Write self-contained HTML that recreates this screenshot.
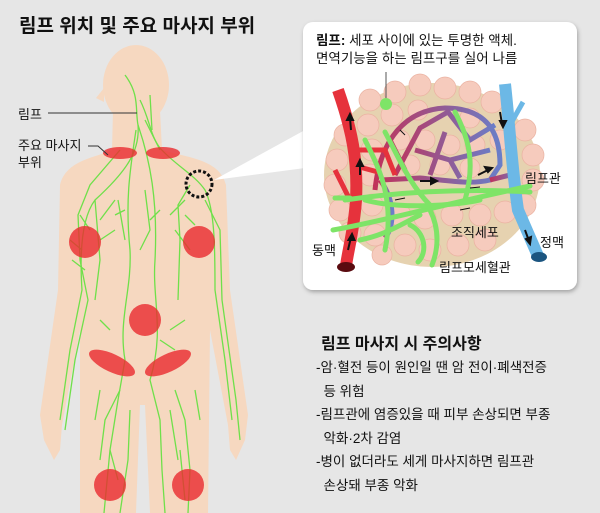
<!DOCTYPE html>
<html><head><meta charset="utf-8">
<style>
body{margin:0;width:600px;height:513px;background:#e6e6e6;overflow:hidden;position:relative;font-family:"Liberation Sans","Noto Sans CJK KR",sans-serif;color:#111}
.t{position:absolute;white-space:nowrap}
</style></head><body>
<svg width="600" height="513" style="position:absolute;left:0;top:0">
<defs>
<filter id="sh" x="-10%" y="-10%" width="120%" height="120%"><feDropShadow dx="1" dy="2" stdDeviation="2" flood-opacity="0.3"/></filter>
<linearGradient id="net" x1="0" x2="1"><stop offset="0" stop-color="#c0325a"/><stop offset="1" stop-color="#6a7ec8"/></linearGradient>
</defs>
<!-- body -->
<g fill="#f6d8c0">
<ellipse cx="136" cy="85" rx="33" ry="40"/>
<path d="M104 88 l-8 10 l8 4z"/>
<path d="M113 110 L160 110 L162 150 C190 158 220 160 226 185 L230 290 L248 415 L245 440 L236 460 L230 450 L228 425 L210 330 L208 513 L150 513 L145 405 L140 405 L136 513 L80 513 L80 330 L62 425 L60 450 L54 460 L44 440 L40 415 L58 290 L60 185 C66 160 95 158 112 150 Z"/>
</g>
<!-- lymph lines -->
<g stroke="#6fe04a" stroke-width="1.3" fill="none">
<path d="M125 75 C140 95 135 110 138 125 C140 150 128 170 95 200 C80 220 80 260 82 290 L70 350 L60 420"/>
<path d="M140 100 C150 120 150 135 160 148 C175 165 195 175 205 190 C215 210 215 250 215 290 L225 360 L232 420"/>
<path d="M138 125 C150 160 158 200 155 260 C152 300 165 330 150 380 L160 420 L162 470 L165 513"/>
<path d="M136 130 C130 170 125 200 130 250 C132 290 118 320 125 360 L118 400 L110 450 L104 513"/>
<path d="M150 95 L152 130 M145 120 L160 150 M120 150 L90 185 L78 215 L80 260 L88 300 L75 360 L65 430"/>
<path d="M95 200 L100 260 L95 300 M100 220 L115 200 M90 230 L80 215 M100 240 L115 230 M82 250 L70 240 M85 270 L72 260"/>
<path d="M190 185 L178 205 L180 240 L178 300 M185 200 L170 215 M185 215 L195 225 M205 200 L220 230 L222 300 L236 400 L240 440 M175 230 L190 250"/>
<path d="M145 190 L150 230 L140 250 M150 220 L160 210 M118 200 L125 240 M115 215 L125 210"/>
<path d="M170 330 L185 320 M160 340 L175 350 M110 330 L100 320 M120 390 L105 420 L100 460 M175 390 L185 420 L190 470 L188 513 M110 450 L118 480 M180 450 L185 500 M100 390 L95 420 M195 390 L200 420 M130 410 L128 460 L120 513 M170 410 L178 460"/>
</g>
<!-- red spots -->
<g fill="#ea2a2e" fill-opacity="0.8">
<ellipse cx="120" cy="153" rx="17" ry="6"/><ellipse cx="163" cy="153" rx="17" ry="6"/>
<circle cx="85" cy="242" r="16"/><circle cx="199" cy="242" r="16"/>
<circle cx="145" cy="320" r="16"/>
<ellipse cx="112" cy="363" rx="25" ry="9" transform="rotate(25 112 363)"/>
<ellipse cx="168" cy="363" rx="25" ry="9" transform="rotate(-25 168 363)"/>
<circle cx="110" cy="485" r="16"/><circle cx="188" cy="485" r="16"/>
</g>
<circle cx="199" cy="184" r="13" fill="none" stroke="#111" stroke-width="3" stroke-dasharray="3 2"/>
<path d="M48 113 L137 113" stroke="#333" stroke-width="1"/>
<path d="M88 146 L98 146 L108 155" stroke="#333" stroke-width="1" fill="none"/>
<!-- callout -->
<path d="M214 180 L305 130 L305 168 Z" fill="#fff"/>
<rect x="303" y="22" width="274" height="268" rx="10" fill="#fff" filter="url(#sh)"/>
<!-- tissue -->
<ellipse cx="432" cy="175" rx="108" ry="92" fill="#e6d2b0"/>
<g fill="#f6cbbd" stroke="#eab2a2" stroke-width="0.7">
<circle cx="345" cy="135" r="11"/><circle cx="337" cy="160" r="11"/><circle cx="335" cy="185" r="11"/><circle cx="340" cy="210" r="11"/><circle cx="350" cy="233" r="11"/>
<circle cx="370" cy="100" r="11"/><circle cx="395" cy="92" r="11"/><circle cx="420" cy="85" r="11"/><circle cx="445" cy="88" r="11"/><circle cx="470" cy="92" r="11"/><circle cx="492" cy="102" r="11"/>
<circle cx="368" cy="125" r="11"/><circle cx="392" cy="115" r="11"/><circle cx="418" cy="110" r="10"/><circle cx="470" cy="118" r="10"/>
<circle cx="372" cy="150" r="11"/><circle cx="370" cy="175" r="11"/><circle cx="372" cy="205" r="11"/><circle cx="375" cy="235" r="11"/><circle cx="382" cy="255" r="10"/>
<circle cx="400" cy="140" r="10"/><circle cx="425" cy="140" r="10"/><circle cx="450" cy="145" r="10"/><circle cx="475" cy="145" r="10"/><circle cx="410" cy="165" r="10"/><circle cx="440" cy="165" r="10"/><circle cx="470" cy="168" r="10"/>
<circle cx="400" cy="215" r="11"/><circle cx="425" cy="218" r="11"/><circle cx="452" cy="215" r="11"/><circle cx="480" cy="215" r="11"/><circle cx="505" cy="212" r="11"/>
<circle cx="405" cy="245" r="11"/><circle cx="430" cy="250" r="11"/><circle cx="458" cy="245" r="11"/><circle cx="485" cy="240" r="11"/>
<circle cx="525" cy="130" r="11"/><circle cx="533" cy="155" r="11"/><circle cx="533" cy="180" r="11"/><circle cx="525" cy="205" r="11"/><circle cx="500" cy="140" r="10"/>
</g>
<!-- network -->
<g fill="none" stroke="url(#net)" stroke-width="5">
<path d="M375 190 C380 140 405 110 445 108 C485 108 500 130 500 165 L490 180 C470 185 445 180 420 178 L380 180"/>
<path d="M395 175 L420 128 L448 112 L470 140 L495 125 M415 150 L450 160 L490 150 M430 175 L445 132 M450 160 L460 178 M405 170 L390 140"/>
<path d="M380 180 C395 200 395 225 385 238"/>
<path d="M490 180 L518 173"/>
</g>
<!-- artery -->
<path d="M338 90 C352 130 358 160 356 200 C354 230 348 250 346 266" stroke="#e6323c" stroke-width="12" fill="none"/>
<ellipse cx="346" cy="267" rx="9" ry="5" fill="#5a0b10"/>
<path d="M354 150 L385 150 L395 175 M352 165 L378 172 M335 170 L350 200" stroke="#e6323c" stroke-width="5" fill="none"/>
<!-- vein -->
<path d="M505 84 C510 130 512 170 518 210 L538 256" stroke="#6cb8e6" stroke-width="12" fill="none"/>
<ellipse cx="539" cy="257" rx="8" ry="5" fill="#1b5580"/>
<path d="M510 125 L523 102" stroke="#6cb8e6" stroke-width="5" fill="none"/>
<!-- lymph vessels -->
<g stroke="#7ee467" stroke-width="5" fill="none" stroke-linecap="round">
<path d="M333 230 C380 222 440 205 530 186"/>
<path d="M345 200 C400 192 460 188 530 192"/>
<path d="M365 200 C400 210 460 205 480 200"/>
<path d="M365 140 C380 170 395 200 385 250"/>
<path d="M385 132 C400 160 410 185 430 205"/>
<path d="M430 210 C440 230 438 250 432 265"/>
<path d="M410 225 C425 232 428 252 418 262"/>
<path d="M455 112 C470 140 475 165 465 200"/>
<path d="M360 240 C385 235 400 225 420 215"/>
<path d="M335 198 L350 198"/>
</g>
<circle cx="386" cy="104" r="6" fill="#7ee467"/>
<path d="M386 72 L386 98" stroke="#555" stroke-width="1"/>
<g fill="#111" stroke="#111" stroke-width="2">
<path d="M351 130 L350 118"/><path d="M350 114 l-3 6 h6z"/>
<path d="M360 175 L360 163"/><path d="M360 160 l-3 6 h6z"/>
<path d="M348 250 L351 237"/><path d="M352 234 l-3.5 6 h6z"/>
<path d="M420 181 L433 181"/><path d="M437 181 l-6 -3 v6z"/>
<path d="M478 175 L488 170"/><path d="M492 168 l-7 -1 l3 5z"/>
<path d="M500 112 L502 124"/><path d="M503 127 l-3 -6 h6z"/>
<path d="M525 230 L529 241"/><path d="M530 244 l-4 -5 l5 -2z"/>
<path d="M400 130 L405 135" stroke-width="1"/><path d="M395 200 L405 198 M460 210 L470 208 M470 188 L480 187" stroke-width="1"/>
</g>
</svg>
<div class="t" style="left:19px;top:11px;font-size:19px;font-weight:bold">림프 위치 및 주요 마사지 부위</div>
<div class="t" style="left:18px;top:104px;font-size:13px">림프</div>
<div class="t" style="left:18px;top:137px;font-size:13px;line-height:17px">주요 마사지<br>부위</div>
<div class="t" style="left:316px;top:32px;font-size:13.5px;line-height:18px"><b>림프:</b> 세포 사이에 있는 투명한 액체.<br>면역기능을 하는 림프구를 실어 나름</div>
<div class="t" style="left:525px;top:168px;font-size:13px">림프관</div>
<div class="t" style="left:451px;top:222px;font-size:13px">조직세포</div>
<div class="t" style="left:540px;top:232px;font-size:13px">정맥</div>
<div class="t" style="left:312px;top:240px;font-size:13px">동맥</div>
<div class="t" style="left:439px;top:257px;font-size:13px">림프모세혈관</div>
<div class="t" style="left:321px;top:330px;font-size:16px;font-weight:bold">림프 마사지 시 주의사항</div>
<div class="t" style="left:316px;top:356px;font-size:13.5px;line-height:23.5px">-암·혈전 등이 원인일 땐 암 전이·폐색전증<br>&nbsp;&nbsp;등 위험<br>-림프관에 염증있을 때 피부 손상되면 부종<br>&nbsp;&nbsp;악화·2차 감염<br>-병이 없더라도 세게 마사지하면 림프관<br>&nbsp;&nbsp;손상돼 부종 악화</div>
</body></html>
